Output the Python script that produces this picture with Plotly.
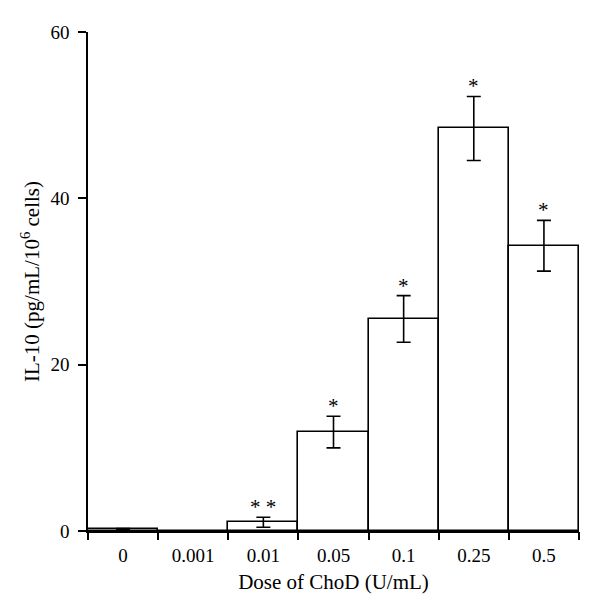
import plotly.graph_objects as go

doses = ["0", "0.001", "0.01", "0.05", "0.1", "0.25", "0.5"]
il10 = [0.2, 0.0, 1.05, 11.9, 25.5, 48.4, 34.3]
il10_err = [0.1, 0.0, 0.6, 1.9, 2.8, 3.85, 3.05]
signif = ["", "", "**", "*", "*", "*", "*"]

y_ticks = [0, 20, 40, 60]
FONT = "Liberation Serif"

xs = list(range(len(doses)))

fig = go.Figure()
fig.add_trace(go.Bar(
    x=xs, y=il10, width=1.0,
    marker=dict(color="white", line=dict(color="black", width=1.6)),
    error_y=dict(type="data", array=il10_err, visible=True,
                 color="black", thickness=1.6, width=7),
    showlegend=False,
))

for xi, v, e, s in zip(xs, il10, il10_err, signif):
    if s:
        fig.add_annotation(x=xi, y=v + e, text=s.replace("**", "* *"),
                           showarrow=False, yanchor="bottom", yshift=-4,
                           font=dict(family=FONT, size=21, color="black"))

# extensions of axis lines beyond the crossing
fig.add_shape(type="line", xref="x domain", yref="y", x0=-8/491, x1=0, y0=0, y1=0,
              line=dict(color="black", width=1.6))
fig.add_shape(type="line", xref="x domain", yref="y domain", x0=0, x1=0, y0=0, y1=-7/499,
              line=dict(color="black", width=1.6))

fig.update_layout(
    width=592, height=607,
    margin=dict(l=80, r=21, t=24, b=84, autoexpand=False),
    plot_bgcolor="white", paper_bgcolor="white",
    font=dict(family=FONT, size=17.5, color="black"),
    bargap=0,
    xaxis=dict(
        range=[-0.5, len(doses) - 0.5], automargin=False,
        tickmode="array", tickvals=xs, ticktext=doses,
        ticks="", showline=True, linecolor="black", linewidth=1.6,
        showgrid=False, zeroline=False, ticklabelstandoff=6,
        title=dict(text="Dose of ChoD (U/mL)", standoff=10),
        tickfont=dict(family=FONT, size=19),
    ),
    xaxis2=dict(
        overlaying="x", side="bottom", anchor="y", automargin=False,
        range=[-0.5, len(doses) - 0.5],
        tickmode="array", tickvals=[i - 0.5 for i in range(len(doses) + 1)],
        showticklabels=False,
        ticks="outside", ticklen=8, tickwidth=1.6, tickcolor="black",
        showline=False, showgrid=False, zeroline=False,
    ),
    yaxis=dict(
        range=[0, 60], tickmode="array", tickvals=y_ticks, automargin=False,
        ticks="outside", ticklen=8, tickwidth=1.6, tickcolor="black",
        showline=True, linecolor="black", linewidth=1.6,
        showgrid=False, zeroline=False, ticklabelstandoff=5,
        title=dict(text="IL-10 (pg/mL/10<sup>6</sup> cells)", standoff=5),
        tickfont=dict(family=FONT, size=19),
    ),
)
fig.add_trace(go.Scatter(x=[0], y=[0], xaxis="x2", mode="markers",
                         marker=dict(opacity=0), showlegend=False, hoverinfo="skip"))

fig.write_html("out.html")
